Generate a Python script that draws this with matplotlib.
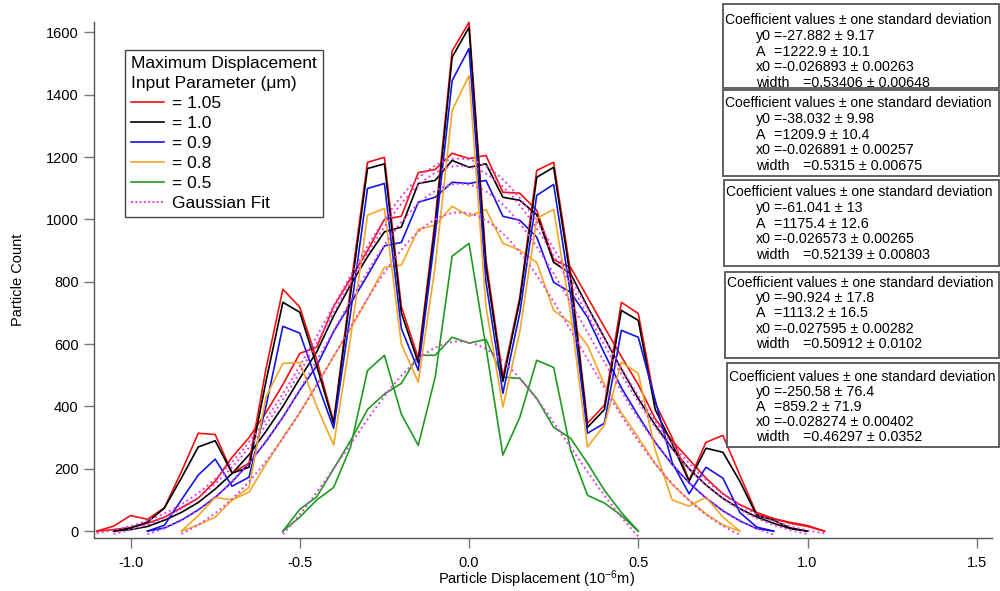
import numpy as np
import matplotlib
matplotlib.use('Agg')
import matplotlib.pyplot as plt
from matplotlib.lines import Line2D
from matplotlib.patches import Rectangle

plt.rcParams['font.family'] = ['Liberation Sans', 'DejaVu Sans']
plt.rcParams['mathtext.fontset'] = 'custom'
plt.rcParams['mathtext.rm'] = 'Liberation Sans'
plt.rcParams['mathtext.default'] = 'regular'
plt.rcParams['axes.unicode_minus'] = False

# ---------------- data ----------------
labels = ['= 1.05', '= 1.0', '= 0.9', '= 0.8', '= 0.5']
colors = ['#f01010', '#000000', '#1414e6', '#f5a623', '#1e9a1e']
fit_color = '#e040e0'
step = 0.05
x_start = [-1.10, -1.05, -0.95, -0.85, -0.55]
x_end = [1.05, 1.00, 0.90, 0.80, 0.50]

red_spike = [0, 16, 50, 38, 75, 190, 314, 310, 187, 218, 520, 776, 718, 550, 350, 780,
             1183, 1199, 720, 555, 1000, 1540, 1632, 870, 494, 750, 1157, 1183, 830, 346,
             404, 734, 698, 410, 300, 163, 285, 307, 180, 55, 40, 28, 18, 0]
red_smooth = [0, 5, 12, 25, 45, 75, 106, 160, 237, 300, 380, 470, 570, 590, 720, 810,
              900, 1000, 1010, 1150, 1160, 1212, 1195, 1205, 1087, 1084, 1029, 870, 846, 750,
              654, 560, 470, 360, 290, 230, 170, 120, 85, 60, 40, 25, 15, 0]
black_spike = [0, 10, 29, 74, 170, 270, 290, 186, 205, 480, 734, 702, 530, 345, 760,
               1163, 1178, 700, 540, 980, 1520, 1616, 850, 480, 740, 1135, 1167, 810, 333,
               390, 708, 676, 390, 280, 160, 266, 253, 160, 50, 35, 10, 0]
black_smooth = [0, 5, 15, 35, 60, 92, 135, 185, 245, 320, 400, 490, 575, 690, 790,
                880, 960, 975, 1115, 1125, 1189, 1167, 1178, 1071, 1061, 1015, 862, 826, 720,
                620, 520, 425, 340, 265, 200, 148, 105, 72, 45, 25, 8, 0]
blue_spike = [0, 19, 100, 180, 231, 144, 173, 400, 657, 635, 480, 330, 700, 1099, 1115,
              650, 516, 950, 1445, 1548, 800, 442, 700, 1077, 1112, 760, 314, 346, 644,
              622, 420, 220, 120, 205, 170, 60, 13, 0]
blue_smooth = [0, 10, 35, 68, 108, 158, 218, 287, 365, 452, 530, 640, 730, 820, 915,
               926, 1055, 1071, 1119, 1115, 1125, 1010, 997, 943, 798, 766, 686, 570, 460,
               370, 285, 214, 155, 106, 65, 33, 8, 0]
orange_spike = [0, 50, 108, 100, 140, 430, 538, 541, 400, 276, 620, 1013, 1035, 600, 478,
                850, 1349, 1461, 720, 398, 640, 1003, 1032, 700, 270, 340, 542, 506, 260,
                100, 80, 109, 45, 0]
orange_smooth = [0, 20, 45, 100, 125, 215, 300, 380, 470, 560, 650, 745, 846, 853, 968,
                 981, 1042, 1010, 1032, 923, 901, 862, 708, 667, 596, 470, 380, 300, 216,
                 150, 100, 55, 20, 0]
green_spike = [0, 45, 100, 140, 270, 515, 564, 375, 275, 494, 882, 923, 590, 244, 365,
               548, 525, 260, 115, 90, 50, 0]
green_smooth = [0, 70, 110, 200, 290, 390, 440, 474, 564, 564, 622, 603, 615, 494, 490,
                426, 333, 298, 218, 131, 60, 0]

spikes = [red_spike, black_spike, blue_spike, orange_spike, green_spike]
smooths = [red_smooth, black_smooth, blue_smooth, orange_smooth, green_smooth]

# Gaussian fit coefficients (y0 + A*exp(-((x-x0)/width)^2))
fit_y0 = [-27.882, -38.032, -61.041, -90.924, -250.58]
fit_A = [1222.9, 1209.9, 1175.4, 1113.2, 859.2]
fit_x0 = [-0.026893, -0.026891, -0.026573, -0.027595, -0.028274]
fit_w = [0.53406, 0.5315, 0.52139, 0.50912, 0.46297]
txt_y0 = ['=-27.882 ± 9.17', '=-38.032 ± 9.98', '=-61.041 ± 13', '=-90.924 ± 17.8', '=-250.58 ± 76.4']
txt_A = ['=1222.9 ± 10.1', '=1209.9 ± 10.4', '=1175.4 ± 12.6', '=1113.2 ± 16.5', '=859.2 ± 71.9']
txt_x0 = ['=-0.026893 ± 0.00263', '=-0.026891 ± 0.00257', '=-0.026573 ± 0.00265',
          '=-0.027595 ± 0.00282', '=-0.028274 ± 0.00402']
txt_w = ['=0.53406 ± 0.00648', '=0.5315 ± 0.00675', '=0.52139 ± 0.00803',
         '=0.50912 ± 0.0102', '=0.46297 ± 0.0352']

x_ticks = [-1.0, -0.5, 0.0, 0.5, 1.0, 1.5]
x_ticklabels = ['-1.0', '-0.5', '0.0', '0.5', '1.0', '1.5']
y_ticks = [0, 200, 400, 600, 800, 1000, 1200, 1400, 1600]

# ---------------- figure ----------------
W, H = 1000, 591
fig = plt.figure(figsize=(W / 100, H / 100), dpi=100)
fx = lambda p: p / W
fy = lambda p: 1 - p / H

ax = fig.add_axes([fx(94), fy(538), (992 - 94) / W, (538 - 22) / H])
ax.set_xlim(-1.108, 1.545)
ax.set_ylim(-22, 1633)

lw = 1.2
for i in range(5):
    n = len(spikes[i])
    xs = np.round(x_start[i] + step * np.arange(n), 3)
    ax.plot(xs, smooths[i], color=colors[i], lw=lw, zorder=2, clip_on=False)
    ax.plot(xs, spikes[i], color=colors[i], lw=lw, zorder=3, clip_on=False)

for i in range(5):
    xf = np.linspace(x_start[i], x_end[i], 300)
    yf = fit_y0[i] + fit_A[i] * np.exp(-((xf - fit_x0[i]) / fit_w[i]) ** 2)
    ax.plot(xf, yf, color=fit_color, lw=1.4, ls=(0, (1, 1.6)), zorder=4, clip_on=False)

for s in ['top', 'right']:
    ax.spines[s].set_visible(False)
for s in ['left', 'bottom']:
    ax.spines[s].set_color('#555555')
    ax.spines[s].set_linewidth(1.0)

ax.set_xticks(x_ticks)
ax.set_xticklabels(x_ticklabels)
ax.set_yticks(y_ticks)
ax.tick_params(axis='both', direction='out', length=7, width=1.0, color='#777777',
               labelsize=10.5, labelcolor='black')
ax.tick_params(axis='y', pad=4)
ax.tick_params(axis='x', pad=6)

fig.text(fx(18), fy(280), 'Particle Count', rotation=90, ha='center', va='center', fontsize=10.5)
fig.text(fx(536), fy(579), 'Particle Displacement (10$^{-6}$m)', ha='center', va='center',
         fontsize=10.5)

# legend
handles = [Line2D([], [], color=c, lw=lw) for c in colors]
handles.append(Line2D([], [], color=fit_color, lw=1.4, ls=(0, (1, 1.2))))
leg = ax.legend(handles, labels + ['Gaussian Fit'],
                title='Maximum Displacement\nInput Parameter (\u03bcm)',
                loc='upper left', bbox_to_anchor=(fx(125), fy(50)), bbox_transform=fig.transFigure,
                fontsize=12.5, title_fontsize=12.5, alignment='left', frameon=True, fancybox=False,
                edgecolor='#444444', framealpha=1, borderpad=0.35, labelspacing=0.28,
                handlelength=1.9, handletextpad=0.45, borderaxespad=0)
leg.get_frame().set_linewidth(1.0)
leg.get_title().set_linespacing(1.4)
leg.set_zorder(10)

# coefficient boxes
tops = [4, 90, 180, 272, 363]
bottoms = [88, 176, 266, 358, 447]
lefts = [723, 723, 724, 725, 727]
first = [16, 13, 12, 11, 14]
gap = [15.8, 15.8, 15.8, 15.2, 15.0]
fs_box = 10.0
for i in range(5):
    t, b, l = tops[i], bottoms[i], lefts[i]
    fig.add_artist(Rectangle((fx(l), fy(b)), (999 - l) / W, (b - t) / H, transform=fig.transFigure,
                             facecolor='white', edgecolor='#555555', lw=1.3, zorder=20))
    rows = [t + first[i] + k * gap[i] for k in range(5)]
    fig.text(fx(l + 2), fy(rows[0]), 'Coefficient values \u00b1 one standard deviation',
             ha='left', va='center', fontsize=fs_box, zorder=21)
    names = ['y0', 'A', 'x0', 'width']
    vals = [txt_y0[i], txt_A[i], txt_x0[i], txt_w[i]]
    vx = [774, 774, 774, 803]
    for k in range(4):
        fig.text(fx(756), fy(rows[k + 1]), names[k], ha='left', va='center', fontsize=10.3, zorder=21)
        fig.text(fx(vx[k]), fy(rows[k + 1]), vals[k], ha='left', va='center', fontsize=10.3, zorder=21)

fig.savefig('out.png', dpi=100, facecolor='white')
